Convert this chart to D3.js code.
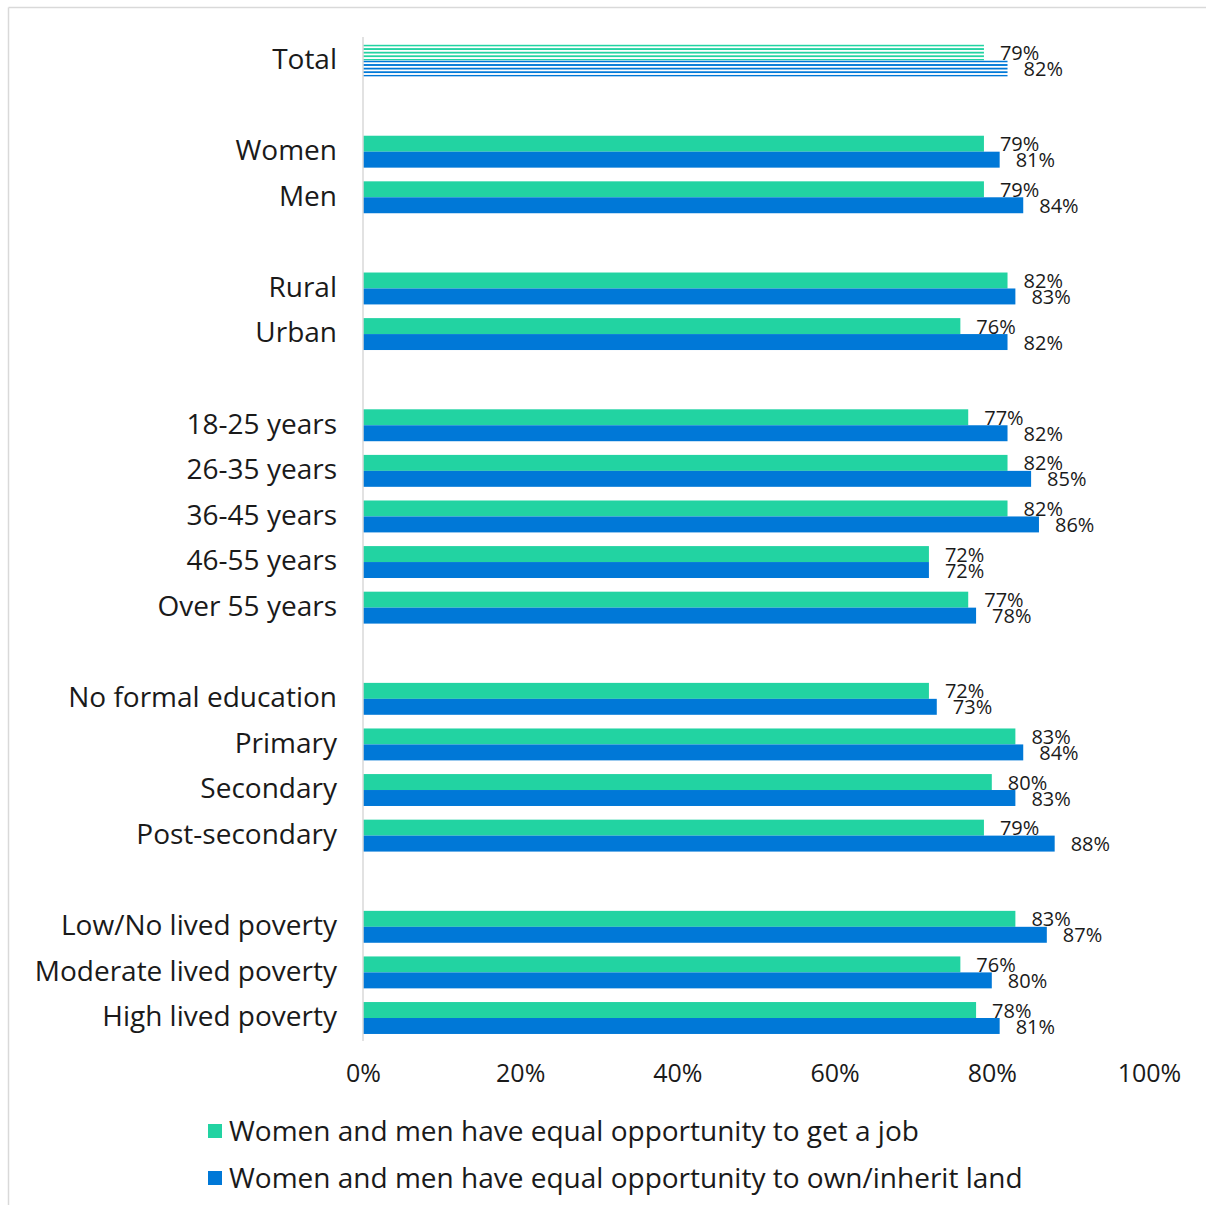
<!DOCTYPE html>
<html>
<head>
<meta charset="utf-8">
<script src="https://cdn.jsdelivr.net/npm/d3@7"></script>
<style>
  html, body { margin: 0; padding: 0; background: #fff; }
  svg { display: block; }
  text { font-family: "Open Sans", sans-serif; fill: #1a1a1a; }
</style>
</head>
<body>
<svg id="chart" width="1206" height="1205"></svg>
<script>
const categories = ["Total", "", "Women", "Men", " ", "Rural", "Urban", "  ",
  "18-25 years", "26-35 years", "36-45 years", "46-55 years", "Over 55 years", "   ",
  "No formal education", "Primary", "Secondary", "Post-secondary", "    ",
  "Low/No lived poverty", "Moderate lived poverty", "High lived poverty"];
const jobValues  = [79, null, 79, 79, null, 82, 76, null, 77, 82, 82, 72, 77, null, 72, 83, 80, 79, null, 83, 76, 78];
const landValues = [82, null, 81, 84, null, 83, 82, null, 82, 85, 86, 72, 78, null, 73, 84, 83, 88, null, 87, 80, 81];
const seriesNames = ["Women and men have equal opportunity to get a job",
                     "Women and men have equal opportunity to own/inherit land"];
const xTicks = [0, 20, 40, 60, 80, 100];

const colors = ["#22d3a2", "#0078d7"];
const svg = d3.select("#chart");

// frame
svg.append("line").attr("x1", 8.5).attr("x2", 1206).attr("y1", 7.5).attr("y2", 7.5).attr("stroke", "#d9d9d9").attr("stroke-width", 1.5);
svg.append("line").attr("x1", 8.5).attr("x2", 8.5).attr("y1", 7.5).attr("y2", 1205).attr("stroke", "#d9d9d9").attr("stroke-width", 1.5);

const x = d3.scaleLinear().domain([0, 100]).range([363, 1149]);
const y = d3.scaleBand().domain(categories).range([37.7, 1040.8]).paddingInner(0.3).paddingOuter(0.15);
const sub = d3.scaleBand().domain([0, 1]).range([0, y.bandwidth()]);

// patterns for Total
const defs = svg.append("defs");
colors.forEach((c, i) => {
  const p = defs.append("pattern").attr("id", "stripe" + i)
    .attr("patternUnits", "userSpaceOnUse").attr("width", 8).attr("height", 3.6)
    .attr("y", y(categories[0]) + sub(i));
  p.append("rect").attr("width", 8).attr("height", 3.6).attr("fill", "#fff");
  p.append("rect").attr("width", 8).attr("height", 1.8).attr("fill", c);
});

const data = categories.map((c, i) => ({c, i, vals: [jobValues[i], landValues[i]]}));

const g = svg.append("g");
data.forEach(d => {
  d.vals.forEach((v, s) => {
    if (v == null) return;
    g.append("rect")
      .attr("x", x(0))
      .attr("y", y(d.c) + sub(s))
      .attr("width", x(v) - x(0))
      .attr("height", sub.bandwidth())
      .attr("fill", d.i === 0 ? `url(#stripe${s})` : colors[s]);
    g.append("text")
      .attr("x", x(v) + 16)
      .attr("y", y(d.c) + sub(s) + sub.bandwidth() / 2)
      .attr("dy", "0.38em")
      .attr("font-size", 20)
      .text(v + "%");
  });
});

// vertical axis line
svg.append("line").attr("x1", x(0)).attr("x2", x(0)).attr("y1", 37).attr("y2", 1041)
  .attr("stroke", "#d9d9d9").attr("stroke-width", 1.5);

// category labels
const yAxis = svg.append("g").attr("transform", `translate(${x(0)},0)`)
  .call(d3.axisLeft(y).tickSize(0).tickPadding(26));
yAxis.select(".domain").remove();
yAxis.selectAll("text").attr("font-size", 28).style("font-family", "'Open Sans', sans-serif").attr("fill", "#1a1a1a").attr("dy", "0.3em");

// x tick labels
const xAxis = svg.append("g").attr("transform", `translate(0,1041)`)
  .call(d3.axisBottom(x).tickValues(xTicks).tickFormat(d => d + "%").tickSize(0).tickPadding(23));
xAxis.select(".domain").remove();
xAxis.selectAll("text").attr("font-size", 25).style("font-family", "'Open Sans', sans-serif").attr("fill", "#1a1a1a");

// legend
const legend = svg.append("g");
seriesNames.forEach((name, i) => {
  const ly = 1131 + i * 47;
  legend.append("rect").attr("x", 208).attr("y", ly - 7).attr("width", 14).attr("height", 14).attr("fill", colors[i]);
  legend.append("text").attr("x", 229).attr("y", ly).attr("dy", "0.36em").attr("font-size", 28).text(name);
});
</script>
</body>
</html>
